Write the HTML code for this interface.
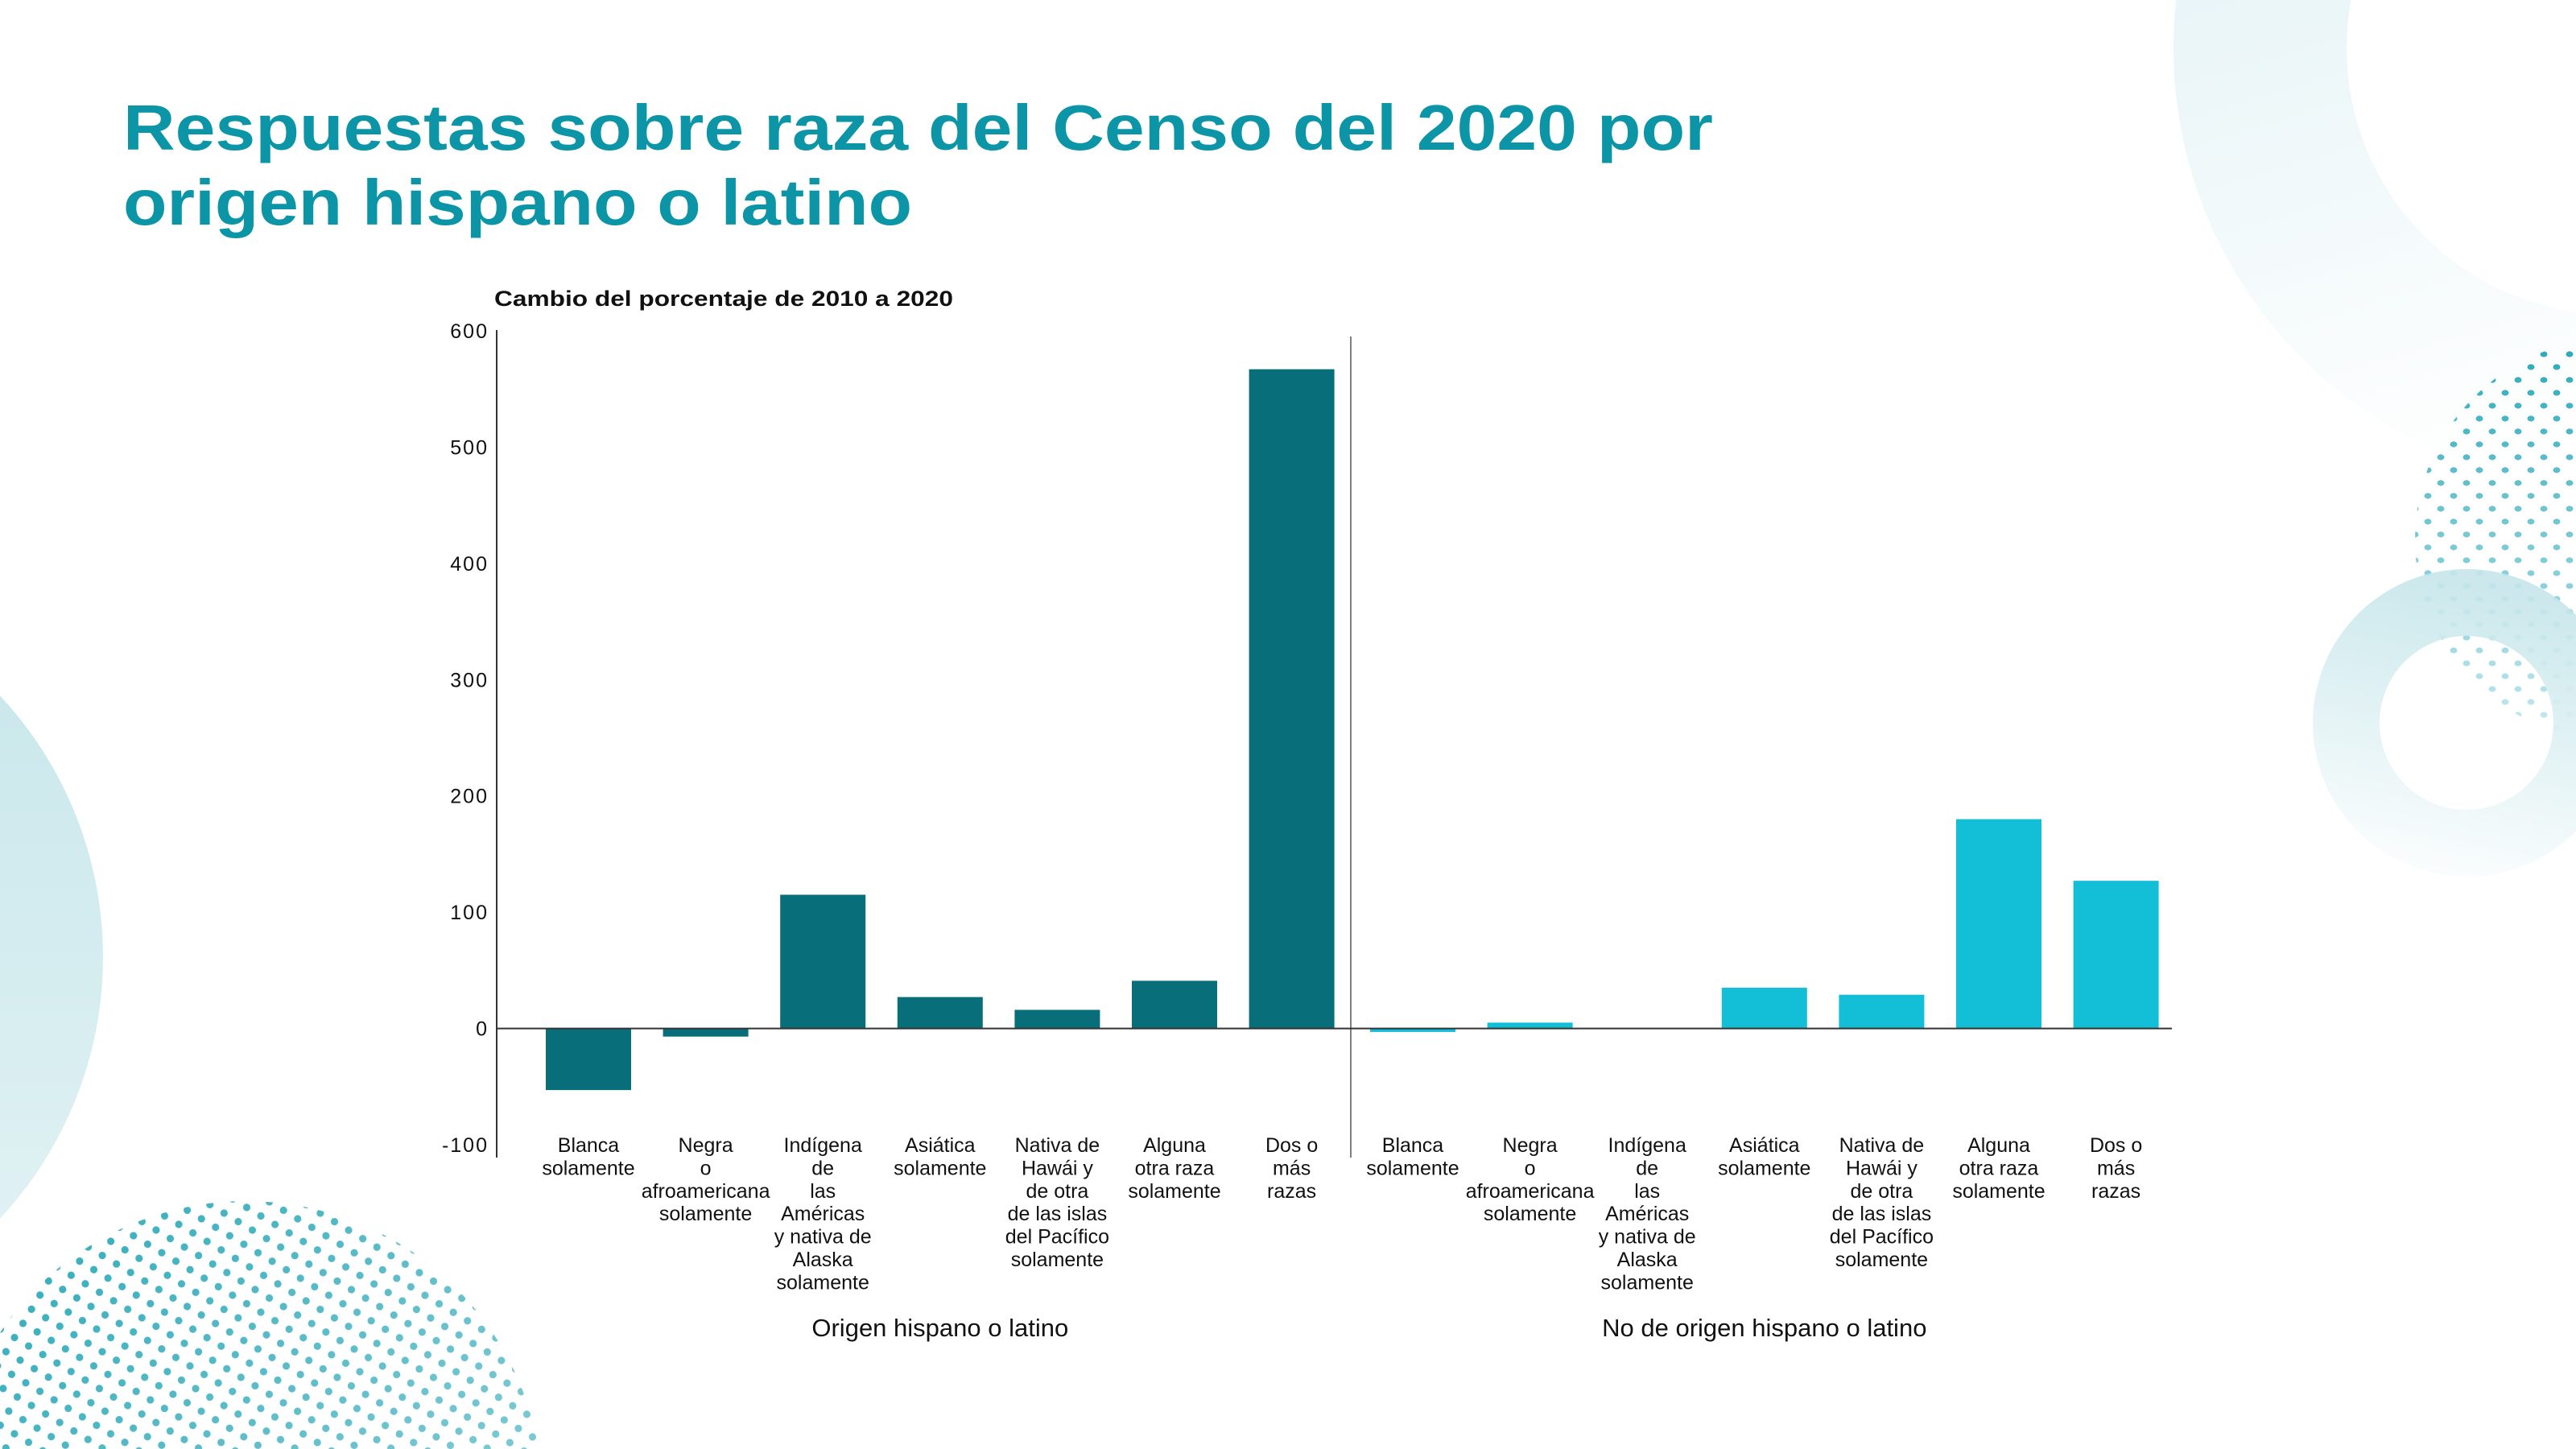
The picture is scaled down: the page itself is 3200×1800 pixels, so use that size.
<!DOCTYPE html>
<html><head><meta charset="utf-8">
<style>
html,body{margin:0;padding:0;background:#fff;}
svg{display:block;}
text{font-family:"Liberation Sans",sans-serif;}
</style></head>
<body>
<svg id="chart" width="3200" height="1800" viewBox="0 0 3200 1800" xmlns="http://www.w3.org/2000/svg">
<defs>
  <linearGradient id="gTopRing" x1="0" y1="0" x2="0.3" y2="1">
    <stop offset="0" stop-color="#d9eef2"/>
    <stop offset="1" stop-color="#ffffff"/>
  </linearGradient>
  <linearGradient id="gMidRing" x1="0.2" y1="0" x2="0" y2="1">
    <stop offset="0" stop-color="#c6e6ea"/>
    <stop offset="1" stop-color="#ffffff"/>
  </linearGradient>
  <linearGradient id="gLeft" x1="0" y1="0" x2="0" y2="1">
    <stop offset="0" stop-color="#c6e6ea"/>
    <stop offset="1" stop-color="#e4f3f5"/>
  </linearGradient>
  <pattern id="dotsR" width="32" height="32" patternUnits="userSpaceOnUse">
    <ellipse cx="8" cy="8" rx="4.5" ry="3.6" fill="#2aa8b8"/>
    <ellipse cx="24" cy="24" rx="4.5" ry="3.6" fill="#2aa8b8"/>
  </pattern>
  <pattern id="dotsL" width="29" height="29" patternUnits="userSpaceOnUse" patternTransform="rotate(-14)">
    <circle cx="7" cy="7" r="4.6" fill="#2aa8b8"/>
    <circle cx="21.5" cy="21.5" r="4.6" fill="#2aa8b8"/>
  </pattern>
  <linearGradient id="fadeR" x1="0" y1="0" x2="0" y2="1">
    <stop offset="0" stop-color="#fff" stop-opacity="1"/>
    <stop offset="1" stop-color="#fff" stop-opacity="0.25"/>
  </linearGradient>
  <mask id="maskR"><circle cx="3250" cy="670" r="250" fill="url(#fadeR)"/></mask>
  <linearGradient id="fadeL" x1="0" y1="0" x2="1" y2="1">
    <stop offset="0" stop-color="#fff" stop-opacity="1"/>
    <stop offset="1" stop-color="#fff" stop-opacity="0.45"/>
  </linearGradient>
  <mask id="maskL"><circle cx="306" cy="1860" r="368" fill="url(#fadeL)"/></mask>
</defs>

<g>
  <circle cx="3245" cy="60" r="545" fill="url(#gTopRing)"/>
  <circle cx="3245" cy="60" r="330" fill="#fff"/>
  <rect x="3000" y="400" width="200" height="700" fill="url(#dotsR)" mask="url(#maskR)"/>
  <path d="M3064 707 a191 191 0 1 0 0.1 0 Z M3064 790 a108 108 0 1 1 -0.1 0 Z" fill="url(#gMidRing)" fill-rule="evenodd" opacity="0.9"/>
  <circle cx="-348" cy="1189" r="476" fill="url(#gLeft)"/>
  <rect x="0" y="1480" width="700" height="320" fill="url(#dotsL)" mask="url(#maskL)"/>
</g>

<g fill="#0c95a6" font-weight="bold" font-size="80">
  <text x="153" y="186" textLength="1975" lengthAdjust="spacingAndGlyphs">Respuestas sobre raza del Censo del 2020 por</text>
  <text x="153" y="279" textLength="980" lengthAdjust="spacingAndGlyphs">origen hispano o latino</text>
</g>
<text x="614" y="380" font-size="27" font-weight="bold" fill="#111" textLength="570" lengthAdjust="spacingAndGlyphs">Cambio del porcentaje de 2010 a 2020</text>

<g id="plot"></g>
</svg>
<script>
const categories = [
  ["Blanca","solamente"],
  ["Negra","o","afroamericana","solamente"],
  ["Indígena","de","las","Américas","y nativa de","Alaska","solamente"],
  ["Asiática","solamente"],
  ["Nativa de","Hawái y","de otra","de las islas","del Pacífico","solamente"],
  ["Alguna","otra raza","solamente"],
  ["Dos o","más","razas"]
];
const groups = ["Origen hispano o latino", "No de origen hispano o latino"];
const hispanicValues = [-53, -7, 115, 27, 16, 41, 567];
const nonHispanicValues = [-3, 5, 0, 35, 29, 180, 127];
const yTicks = [-100, 0, 100, 200, 300, 400, 500, 600];

const NS = "http://www.w3.org/2000/svg";
const plot = document.getElementById("plot");
const yMin = -100, yMax = 600;
const yTop = 411, yBot = 1422;
function y(v){ return yBot - (v - yMin) / (yMax - yMin) * (yBot - yTop); }
const axisX = 617, sepX = 1678, rightX = 2698;
const step = 145.6, barW = 106;
function xCenter(g, i){ return (g === 0 ? 731 : 1755) + i * step; }
function mk(tag, attrs){ const e = document.createElementNS(NS, tag); for (const k in attrs) e.setAttribute(k, attrs[k]); plot.appendChild(e); return e; }

// y ticks
yTicks.forEach(t => {
  const e = mk("text", {x: 607, y: y(t) + 9, "text-anchor": "end", "font-size": 25, fill: "#111", "letter-spacing": "2"});
  e.textContent = t;
  
  
});

// bars
[hispanicValues, nonHispanicValues].forEach((vals, g) => {
  vals.forEach((v, i) => {
    const top = Math.min(y(v), y(0)), h = Math.abs(y(v) - y(0));
    const r = mk("rect", {x: xCenter(g, i) - barW / 2, y: top, width: barW, height: h, fill: g === 0 ? "#076e7a" : "#12bfd6"});
    
    
  });
  categories.forEach((lines, i) => {
    const t = mk("text", {x: xCenter(g, i), y: 1431, "text-anchor": "middle", "font-size": 25, fill: "#111"});
    
    
    lines.forEach((ln, j) => {
      const s = document.createElementNS(NS, "tspan");
      s.setAttribute("x", xCenter(g, i));
      s.setAttribute("y", 1431 + j * 28.4);
      s.textContent = ln;
      t.appendChild(s);
    });
  });
  const gl = mk("text", {x: (xCenter(g, 0) + xCenter(g, 6)) / 2, y: 1660, "text-anchor": "middle", "font-size": 31, fill: "#111"});
  gl.textContent = groups[g];
  
  
});

// axes
const ax = mk("line", {x1: axisX, y1: y(600) - 1, x2: axisX, y2: 1438, stroke: "#333", "stroke-width": 2});


const sep = mk("line", {x1: sepX, y1: 418, x2: sepX, y2: 1438, stroke: "#555", "stroke-width": 1.5});


const zl = mk("line", {x1: axisX, y1: y(0), x2: rightX, y2: y(0), stroke: "#333", "stroke-width": 2});


</script>
</body></html>
